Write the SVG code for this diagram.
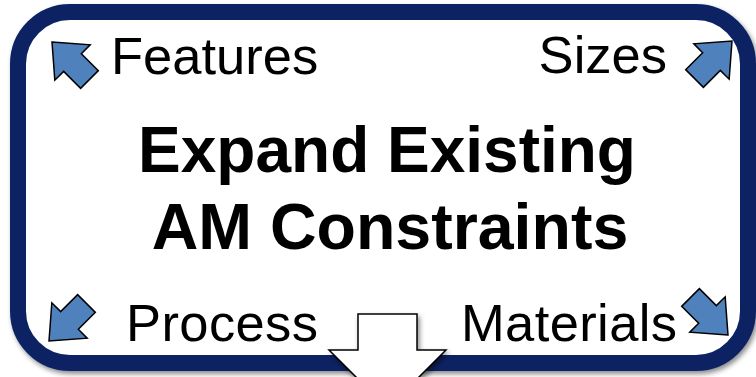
<svg xmlns="http://www.w3.org/2000/svg" width="756" height="377" viewBox="0 0 756 377">
  <defs>
    <filter id="shadow" x="-10%" y="-10%" width="120%" height="130%">
      <feDropShadow dx="2" dy="3" stdDeviation="2.5" flood-color="#000" flood-opacity="0.45"/>
    </filter>
    <!-- block arrow pointing up, tip at origin -->
    <path id="corner-arrow" d="M0,0 L25,29 L12.5,29 L12.5,53 L-12.5,53 L-12.5,29 L-25,29 Z"/>
    <style>
      .frame { fill: #ffffff; stroke: #0a2463; stroke-width: 16; }
      .label { font-family: "Liberation Sans", Arial, sans-serif; font-size: 52.5px; fill: #000; }
      .title { font-family: "Liberation Sans", Arial, sans-serif; font-size: 64px; font-weight: bold; fill: #000; text-anchor: middle; }
      .corner use { fill: #4f81bd; stroke: #000; stroke-width: 1.5; stroke-linejoin: miter; }
      .down { fill: #ffffff; stroke: #000; stroke-width: 1.5; }
    </style>
  </defs>

  <rect width="756" height="377" fill="#ffffff"/>

  <!-- rounded frame -->
  <g id="frame">
    <rect class="frame" x="18" y="12" width="730" height="351" rx="52" ry="52" filter="url(#shadow)"/>
  </g>

  <!-- heading -->
  <g id="title">
    <text class="title" x="387" y="172">Expand Existing</text>
    <text class="title" x="390" y="249" style="font-size:64.5px">AM Constraints</text>
  </g>

  <!-- corner labels -->
  <g id="label-features"><text class="label" x="111" y="74">Features</text></g>
  <g id="label-sizes"><text class="label" x="667" y="73" text-anchor="end">Sizes</text></g>
  <g id="label-process"><text class="label" x="126" y="341" textLength="192">Process</text></g>
  <g id="label-materials"><text class="label" x="461" y="341" textLength="216">Materials</text></g>

  <!-- outward corner arrows -->
  <g id="connectors">
    <g class="corner">
      <use href="#corner-arrow" transform="translate(52,42) rotate(-45)"/>
      <use href="#corner-arrow" transform="translate(732,41) rotate(45)"/>
      <use href="#corner-arrow" transform="translate(49,341) rotate(-135)"/>
      <use href="#corner-arrow" transform="translate(728,335) rotate(135)"/>
    </g>
    <!-- downward block arrow -->
    <polygon id="down-arrow" class="down" filter="url(#shadow)"
      points="358,314 417,314 417,350 446,350 387.5,408.5 329,350 358,350"/>
  </g>
</svg>
